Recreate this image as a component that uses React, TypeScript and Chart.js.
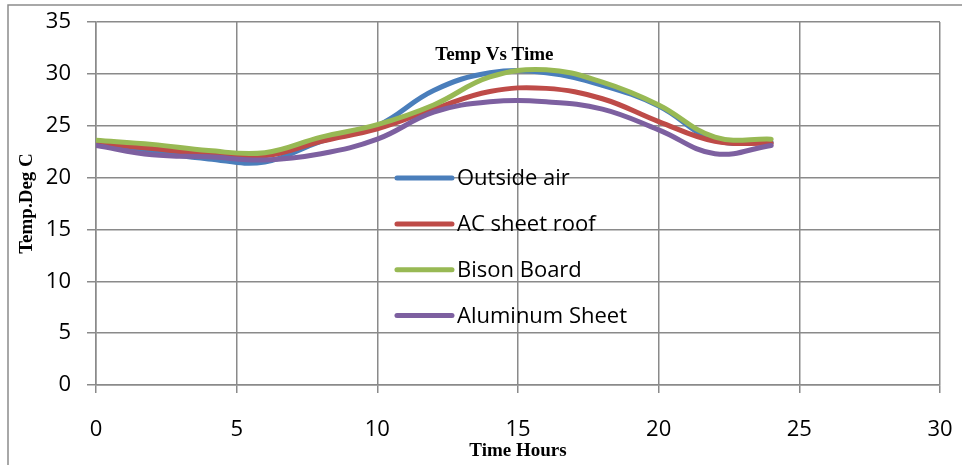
import React, { useEffect, useRef } from "react";
import { Chart, registerables } from "chart.js";

Chart.register(...registerables);

const hours = [0, 2, 4, 6, 8, 10, 12, 14, 16, 18, 20, 22, 24];
const outsideAir = [23.2, 22.5, 21.8, 21.5, 23.5, 25.0, 28.4, 30.1, 30.1, 28.9, 26.9, 23.6, 23.4];
const acSheetRoof = [23.4, 22.8, 22.3, 22.1, 23.5, 24.7, 26.6, 28.3, 28.6, 27.6, 25.4, 23.5, 23.3];
const bisonBoard = [23.6, 23.2, 22.6, 22.4, 23.9, 25.1, 27.0, 29.7, 30.4, 29.2, 27.0, 23.9, 23.7];
const aluminumSheet = [23.1, 22.2, 22.0, 21.7, 22.3, 23.7, 26.3, 27.3, 27.3, 26.6, 24.6, 22.3, 23.1];

const seriesNames = ["Outside air", "AC sheet roof", "Bison Board", "Aluminum Sheet"];
const seriesColors = ["#4A7EBB", "#BE4B48", "#98B954", "#7D60A0"];
const chartTitle = "Temp Vs Time";
const xTitle = "Time Hours";
const yTitle = "Temp.Deg C";

const TICK_FONT = { family: "'Open Sans', 'Noto Sans', sans-serif", size: 22 };
const TITLE_FONT = { family: "'Liberation Serif', 'DejaVu Serif', serif", size: 19, weight: "bold" as const };

const framePlugin = {
  id: "frame",
  beforeDraw(chart: any) {
    const { ctx, width, height } = chart;
    ctx.save();
    ctx.fillStyle = "#ffffff";
    ctx.fillRect(0, 0, width, height);
    ctx.strokeStyle = "#8c8c8c";
    ctx.lineWidth = 1.5;
    ctx.beginPath();
    ctx.moveTo(width, 5);
    ctx.lineTo(8, 5);
    ctx.lineTo(8, height);
    ctx.stroke();
    ctx.restore();
  },
};

const overlayPlugin = {
  id: "overlay",
  afterDatasetsDraw(chart: any) {
    const { ctx, chartArea } = chart;
    const w = chartArea.right - chartArea.left;
    const h = chartArea.bottom - chartArea.top;
    ctx.save();
    ctx.font = "bold 19px 'Liberation Serif', serif";
    ctx.fillStyle = "#000";
    ctx.textAlign = "center";
    ctx.textBaseline = "middle";
    ctx.fillText(chartTitle, chartArea.left + w * 0.472, chartArea.top + h * 0.09);
    const lx0 = chartArea.left + w * 0.3566;
    const lx1 = chartArea.left + w * 0.4218;
    const ly0 = chartArea.top + h * 0.430;
    const dy = h * 0.1262;
    ctx.font = "22px 'Open Sans', sans-serif";
    ctx.textAlign = "left";
    chart.data.datasets.forEach((ds: any, i: number) => {
      const y = ly0 + dy * i;
      ctx.strokeStyle = ds.borderColor;
      ctx.lineWidth = 5;
      ctx.lineCap = "round";
      ctx.beginPath();
      ctx.moveTo(lx0, y);
      ctx.lineTo(lx1, y);
      ctx.stroke();
      ctx.fillStyle = "#000";
      ctx.fillText(ds.label, lx1 + 5, y + 1);
    });
    ctx.restore();
  },
};

export default function App() {
  const ref = useRef<HTMLCanvasElement | null>(null);
  useEffect(() => {
    if (!ref.current) return;
    const allSeries = [outsideAir, acSheetRoof, bisonBoard, aluminumSheet];
    const chart = new Chart(ref.current, {
      type: "line",
      data: {
        datasets: allSeries.map((vals, i) => ({
          label: seriesNames[i],
          data: hours.map((h, j) => ({ x: h, y: vals[j] })),
          borderColor: seriesColors[i],
          backgroundColor: seriesColors[i],
          borderWidth: 5,
          pointRadius: 0,
          tension: 0.4,
          borderCapStyle: "round" as const,
          borderJoinStyle: "round" as const,
          order: 4 - i,
        })),
      },
      options: {
        animation: false,
        responsive: false,
        events: [],
        layout: { padding: { left: 0, top: 22, right: 22, bottom: 0 } },
        plugins: {
          legend: { display: false },
          title: { display: false },
          tooltip: { enabled: false },
        },
        scales: {
          x: {
            type: "linear",
            min: 0,
            max: 30,
            ticks: { stepSize: 5, color: "#000", font: TICK_FONT, padding: 24, maxRotation: 0 },
            grid: { color: "#8a8a8a", lineWidth: 1.5, tickLength: 8 },
            border: { color: "#8a8a8a", width: 1.5 },
            title: { display: true, text: xTitle, color: "#000", font: TITLE_FONT, padding: { top: 0, bottom: 3 } },
            afterFit: (s: any) => {
              s.height = 80;
              s.paddingLeft = 0;
              s.paddingRight = 0;
            },
          },
          y: {
            type: "linear",
            min: 0,
            max: 35,
            ticks: { stepSize: 5, color: "#000", font: TICK_FONT, padding: 16 },
            grid: { color: "#8a8a8a", lineWidth: 1.5, tickLength: 9 },
            border: { color: "#8a8a8a", width: 1.5 },
            title: { display: true, text: yTitle, color: "#000", font: TITLE_FONT, padding: { top: 16, bottom: 0 } },
            afterFit: (s: any) => {
              s.width = 96;
              s.paddingTop = 0;
              s.paddingBottom = 0;
            },
          },
        },
      },
      plugins: [framePlugin, overlayPlugin],
    });
    return () => chart.destroy();
  }, []);
  return (
    <div style={{ position: "absolute", left: 0, top: 0, width: 962, height: 465 }}>
      <canvas ref={ref} width={962} height={465} style={{ width: 962, height: 465, display: "block" }} />
    </div>
  );
}
